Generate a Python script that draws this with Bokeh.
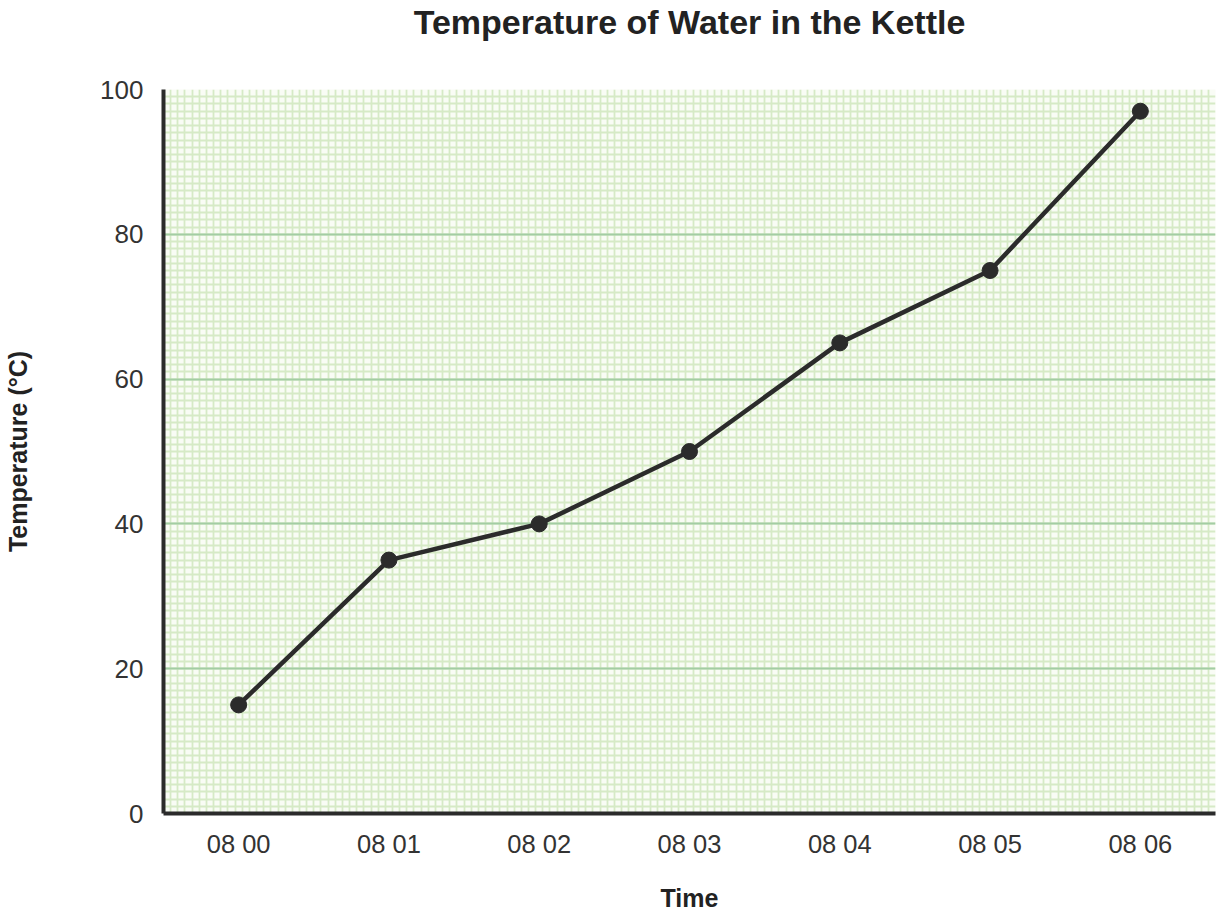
from bokeh.plotting import figure
from bokeh.models import FixedTicker, Range1d, Title
from bokeh.embed import file_html
from bokeh.resources import INLINE

time_labels = ["08 00", "08 01", "08 02", "08 03", "08 04", "08 05", "08 06"]
temperatures = [15, 35, 40, 50, 65, 75, 97]
y_ticks = [0, 20, 40, 60, 80, 100]

xs = list(range(len(time_labels)))

FONT = "Liberation Sans"

p = figure(output_backend="svg", toolbar_location=None,
           x_range=Range1d(-0.5, len(time_labels) - 0.5), y_range=Range1d(0, 100),
           frame_width=1052, frame_height=724,
           min_border_left=163, min_border_top=88, min_border_right=6, min_border_bottom=100)

p.background_fill_color = "#f9fcf5"
p.border_fill_color = "white"
p.outline_line_color = None

p.title.text = "Temperature of Water in the Kettle"
p.title.align = "center"
p.title.text_font = FONT
p.title.text_font_size = "34px"
p.title.text_font_style = "bold"
p.title.text_color = "#222222"
p.title.standoff = 0

# empty spacer between title and frame
spacer = Title(text=" ", text_font_size="1px", standoff=46)
p.add_layout(spacer, "above")

# grids
n_minor_x = 21 * len(time_labels)
p.xgrid.ticker = FixedTicker(ticks=[], minor_ticks=[-0.5 + i / 21 for i in range(n_minor_x + 1)])
p.xgrid.grid_line_color = None
p.xgrid.minor_grid_line_color = "#d6eac6"
p.xgrid.minor_grid_line_width = 1.8

p.ygrid.ticker = FixedTicker(ticks=y_ticks, minor_ticks=list(range(0, 101)))
p.ygrid.grid_line_color = "#a3cda3"
p.ygrid.grid_line_width = 2
p.ygrid.minor_grid_line_color = "#d6eac6"
p.ygrid.minor_grid_line_width = 1.8

# axes
p.xaxis.ticker = FixedTicker(ticks=xs)
p.xaxis.major_label_overrides = {i: t for i, t in zip(xs, time_labels)}
p.yaxis.ticker = FixedTicker(ticks=y_ticks)
for ax in (p.xaxis, p.yaxis):
    ax.axis_line_color = "#2b2b2b"
    ax.axis_line_width = 4
    ax.major_tick_line_color = None
    ax.minor_tick_line_color = None
    ax.major_label_text_font = FONT
    ax.major_label_text_font_size = "25.5px"
    ax.major_label_text_color = "#333333"
    ax.axis_label_text_font = FONT
    ax.axis_label_text_font_size = "25px"
    ax.axis_label_text_font_style = "bold"
    ax.axis_label_text_color = "#222222"

p.yaxis.major_label_text_font_size = "26px"
p.xaxis.axis_label = "Time"
p.yaxis.axis_label = "Temperature (°C)"
p.xaxis.major_label_standoff = 10
p.xaxis.axis_label_standoff = 23
p.yaxis.major_label_standoff = 14
p.yaxis.axis_label_standoff = 65

p.line(xs, temperatures, line_color="#2b2b2b", line_width=4.5)
p.scatter(xs, temperatures, size=16, fill_color="#2b2b2b", line_color="#2b2b2b")

open("out.html", "w").write(file_html(p, INLINE))
